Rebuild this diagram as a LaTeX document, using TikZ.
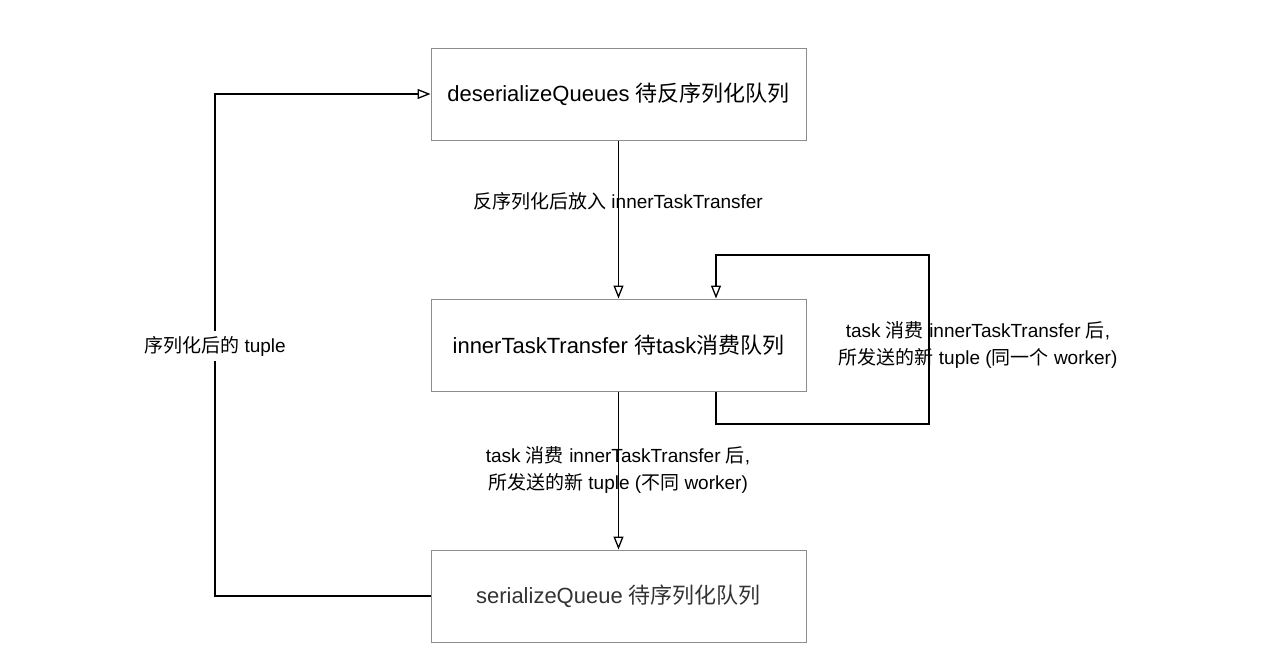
\documentclass[tikz,border=0pt]{standalone}
\usepackage{fontspec}
\setmainfont{Liberation Sans}
\newfontfamily\cjk{Noto Sans CJK SC}
\newcommand{\zh}[1]{{\cjk #1}}
\usetikzlibrary{arrows.meta}

\begin{document}
\begin{tikzpicture}[x=1pt, y=-1pt,
        queue/.style={draw=black!45, line width=1pt, minimum width=375pt, minimum height=92pt,
            inner sep=0pt, font=\fontsize{22}{26}\selectfont},
        flow/.style={line width=1.3pt, -{Triangle[open, length=13pt, width=10pt]}},
        lbl/.style={align=center, inner sep=2pt, font=\fontsize{19}{27}\selectfont}]
        % Bounding box
        \useasboundingbox (0,0) rectangle (1280,670);
    
        % The three queues
        \node[queue] (deq) at (618.5,94) {deserializeQueues \zh{待反序列化队列}};
        \node[queue] (inner) at (618.5,345) {innerTaskTransfer \zh{待}task\zh{消费队列}};
        \node[queue, text=black!80] (ser) at (618.5,596) {serializeQueue \zh{待序列化队列}};
    
        % Corner points of the loops
        \coordinate (loopl) at (716,424);
        \coordinate (loopr) at (929,255);
        \coordinate (backx) at (215,0);
    
        % Draw the connectors
        \draw[flow] (deq.south) -- (inner.north);
        \draw[flow] (inner.south) -- (ser.north);
        \draw[flow] (inner.south -| loopl) -- (loopl) -| (loopr) -| (inner.north -| loopl);
        \draw[flow] (ser.west) -| (backx |- deq.west) -- (deq.west);
    
        % Label the connectors
        \node[lbl] (deqlbl) at (618,201) {\zh{反序列化后放入} innerTaskTransfer};
        \node[lbl] (innerlbl) at (618,470) {task \zh{消费} innerTaskTransfer \zh{后},\\\zh{所发送的新} tuple (\zh{不同} worker)};
        \node[lbl] (looplbl) at (978,345) {task \zh{消费} innerTaskTransfer \zh{后},\\\zh{所发送的新} tuple (\zh{同一个} worker)};
        \node[lbl, fill=white, inner ysep=5pt] (backlbl) at (215,346) {\zh{序列化后的} tuple};
    \end{tikzpicture}
\end{document}
